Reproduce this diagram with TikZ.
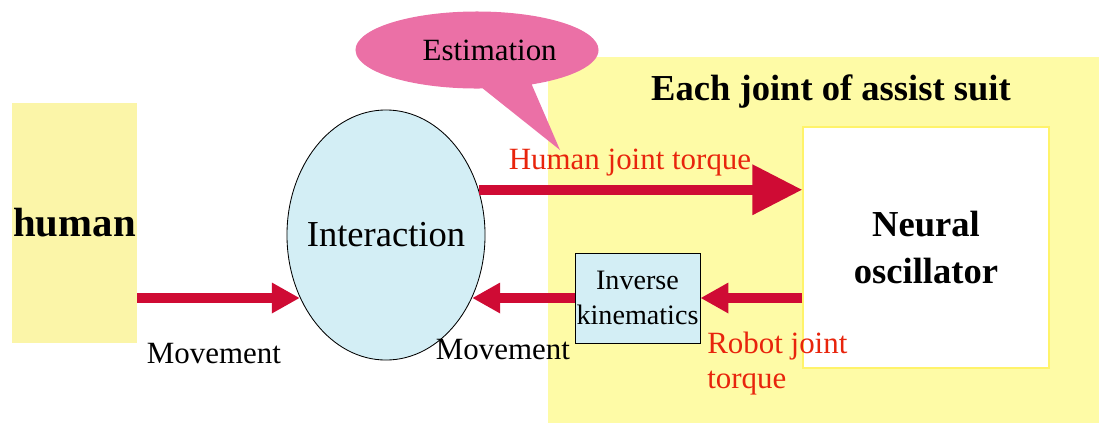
\documentclass[tikz,border=0pt]{standalone}
\usepackage{fontspec}
\setmainfont{Liberation Serif}
\usepackage{xcolor}
\usetikzlibrary{arrows.meta,positioning,calc,shapes.geometric,shapes.callouts}
\definecolor{cSuit}{HTML}{FEFBA6}
\definecolor{cHum} {HTML}{FBF5A8}
\definecolor{cEst} {HTML}{EB70A6}
\definecolor{cInt} {HTML}{D3EEF5}
\definecolor{cArr} {HTML}{CF0B34}
\definecolor{cTxt} {HTML}{E8240C}
\definecolor{cEdge}{HTML}{FFF36A}
\newcommand{\fsz}[2]{\fontsize{#1}{#2}\selectfont}
\tikzset{
  px/.style    ={x=0.025cm,y=-0.025cm},
  box/.style   ={inner sep=0pt,align=center,text=black},
  hbox/.style  ={box,fill=cHum,minimum width=3.125cm,minimum height=6cm,
                 font=\fsz{29}{34}\bfseries},
  nbox/.style  ={box,fill=white,draw=cEdge,line width=0.8pt,minimum width=6.15cm,
                 minimum height=6.025cm,font=\fsz{26}{33}\bfseries},
  ibox/.style  ={box,fill=cInt,draw=black,line width=0.6pt,minimum width=3.125cm,
                 minimum height=2.25cm,font=\fsz{20}{25}},
  iell/.style  ={box,ellipse,fill=cInt,draw=black,line width=0.6pt,inner xsep=-7.5pt,
                 minimum width=4.95cm,minimum height=6.25cm,font=\fsz{26}{30}},
  ecall/.style ={box,ellipse callout,fill=cEst,minimum width=6.075cm,
                 minimum height=1.925cm,callout pointer arc=24,font=\fsz{22}{26}},
  ttl/.style   ={box,font=\fsz{26}{30}\bfseries},
  btxt/.style  ={box,font=\fsz{22}{26}},
  rtxt/.style  ={inner sep=0pt,text=cTxt,font=\fsz{22}{25}},
  arb/.style   ={cArr,line width=7pt,-{Triangle[length=1.25cm,width=1.2cm]}},
  ars/.style   ={cArr,line width=6.5pt,-{Triangle[length=0.7cm,width=0.72cm]}},
}

\begin{document}
\begin{tikzpicture}[px]
\useasboundingbox (0,0) rectangle (1099,423);
% assist suit region
\fill[cSuit] (548,57) rectangle (1099,423);
\node[ttl] (suit) at (831,92) {Each joint of assist suit};
\node[nbox] (neu) at (926,247.5) {Neural\\oscillator};
\node[ibox] (ik) at (637.5,298) {Inverse\\kinematics};
% human side
\node[hbox] (hum) at (74.5,223) {human};
\node[iell] (inter) at (386,235) {Interaction};
\coordinate (rowB) at (0,298);
% estimation bubble
\coordinate (tip) at (560,150);
\node[ecall,callout absolute pointer={(tip)}] (est) at (477,50) {\hspace*{18pt}Estimation};
% arrows
\draw[arb] (inter.26) -- (inter.26 -| neu.west);
\node[rtxt] (hjt) at (630,163) {Human joint torque};
\draw[ars] (neu.west |- ik.east) -- (ik.east);
\node[rtxt,align=left,anchor=north west] (rjt) at (707,332) {Robot joint\\torque};
\draw[ars] (ik.west) -- (inter.324 |- ik.west);
\draw[ars] (hum.east |- rowB) -- (inter.216 |- rowB);
\node[btxt] (mv1) at (214,354) {Movement};
\node[btxt] (mv2) at (503,350) {Movement};
\end{tikzpicture}
\end{document}
